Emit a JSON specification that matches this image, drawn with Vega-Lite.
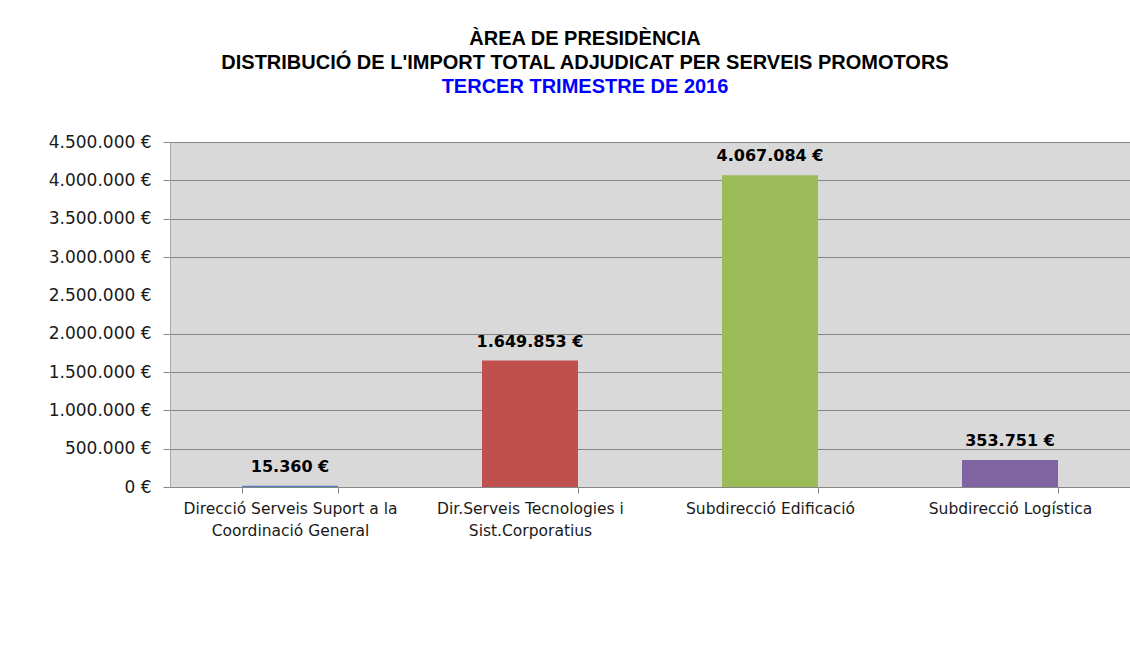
{
  "$schema": "https://vega.github.io/schema/vega-lite/v6.json",
  "autosize": {"type": "none"},
  "padding": {"left": 170, "top": 142, "right": 0, "bottom": 159},
  "width": 960,
  "height": 345,
  "background": "white",
  "title": {
    "text": ["ÀREA DE PRESIDÈNCIA", "DISTRIBUCIÓ DE L'IMPORT TOTAL ADJUDICAT PER SERVEIS PROMOTORS"],
    "subtitle": "TERCER TRIMESTRE DE 2016",
    "anchor": "middle",
    "frame": "group",
    "dx": -65,
    "offset": 36,
    "font": "Liberation Sans",
    "fontSize": 20,
    "fontWeight": "bold",
    "color": "#000000",
    "lineHeight": 24,
    "subtitleFont": "Liberation Sans",
    "subtitleFontSize": 20,
    "subtitleFontWeight": "bold",
    "subtitleColor": "#0000FF",
    "subtitleLineHeight": 24,
    "subtitlePadding": 4
  },
  "config": {
    "locale": {
      "number": {"decimal": ",", "thousands": ".", "grouping": [3], "currency": ["", " €"]}
    },
    "view": {"fill": "#D9D9D9", "stroke": null}
  },
  "data": {
    "values": [
      {"servei": "Direcció Serveis Suport a la Coordinació General", "import": 15360},
      {"servei": "Dir.Serveis Tecnologies i Sist.Corporatius", "import": 1649853},
      {"servei": "Subdirecció Edificació", "import": 4067084},
      {"servei": "Subdirecció Logística", "import": 353751}
    ]
  },
  "encoding": {
    "x": {
      "field": "servei",
      "type": "nominal",
      "sort": null,
      "scale": {"paddingInner": 0.6, "paddingOuter": 0.3},
      "axis": {
        "title": null,
        "labelAngle": 0,
        "labelFont": "DejaVu Sans",
        "labelFontSize": 15.5,
        "labelColor": "#1a1a1a",
        "labelPadding": 8,
        "labelLineHeight": 22,
        "labelLimit": 300,
        "tickBand": "extent",
        "tickSize": 6,
        "tickColor": "#868686",
        "domainColor": "#868686",
        "labelExpr": "datum.value == 'Direcció Serveis Suport a la Coordinació General' ? ['Direcció Serveis Suport a la', 'Coordinació General'] : datum.value == 'Dir.Serveis Tecnologies i Sist.Corporatius' ? ['Dir.Serveis Tecnologies i', 'Sist.Corporatius'] : datum.value"
      }
    },
    "y": {
      "field": "import",
      "type": "quantitative",
      "scale": {"domain": [0, 4500000], "nice": false},
      "axis": {
        "title": null,
        "values": [0, 500000, 1000000, 1500000, 2000000, 2500000, 3000000, 3500000, 4000000, 4500000],
        "format": "$,.0f",
        "labelFont": "DejaVu Sans",
        "labelFontSize": 17,
        "labelColor": "#1a1a1a",
        "labelPadding": 12,
        "tickSize": 7,
        "tickColor": {"condition": {"test": "datum.value == 2500000", "value": "transparent"}, "value": "#868686"},
        "gridColor": {"condition": {"test": "datum.value == 2500000", "value": "transparent"}, "value": "#868686"},
        "gridOpacity": 1,
        "domainColor": "#A6A6A6",
        "domainWidth": 1
      }
    }
  },
  "layer": [
    {
      "mark": {"type": "bar"},
      "encoding": {
        "color": {
          "field": "servei",
          "type": "nominal",
          "sort": null,
          "scale": {"range": ["#4F81BD", "#C0504D", "#9BBB59", "#8064A2"]},
          "legend": null
        }
      }
    },
    {
      "mark": {"type": "text", "baseline": "bottom", "dy": -11, "font": "DejaVu Sans", "fontSize": 16, "fontWeight": "bold", "color": "#000000"},
      "encoding": {
        "text": {"field": "import", "type": "quantitative", "format": "$,.0f"}
      }
    }
  ]
}
